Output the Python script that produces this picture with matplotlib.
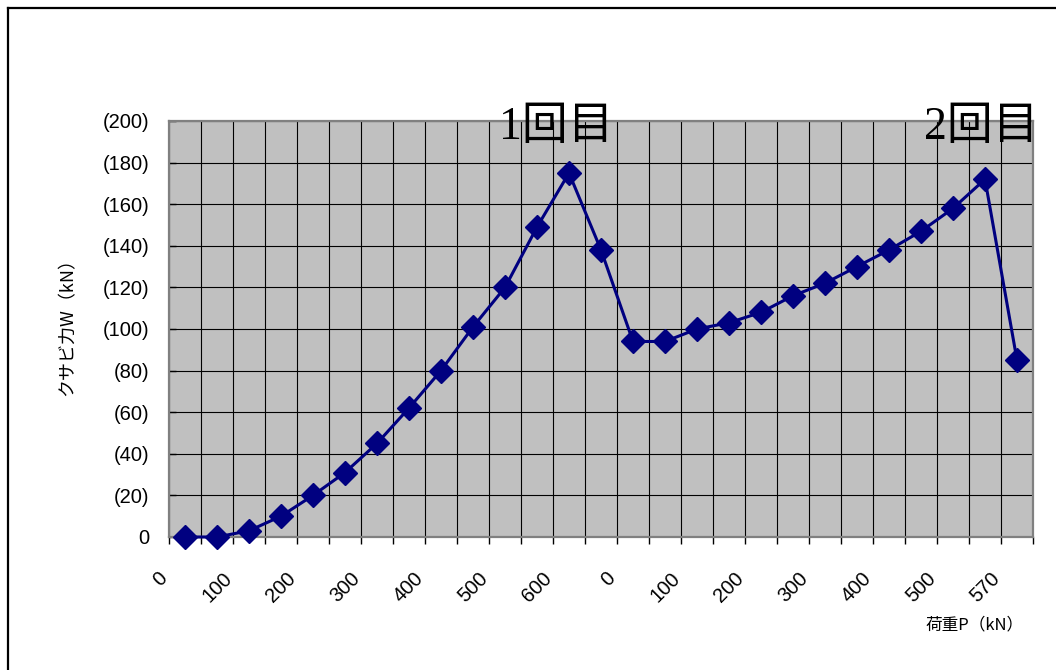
import matplotlib.pyplot as plt
from matplotlib.lines import Line2D
from matplotlib.ticker import FixedLocator, FuncFormatter, NullFormatter
from matplotlib.transforms import ScaledTranslation

plt.rcParams['font.family'] = ['Liberation Sans', 'Noto Sans CJK JP']

# 荷重P (kN)  1回目: 0→650, 2回目: 0→570
load_1 = [0, 50, 100, 150, 200, 250, 300, 350, 400, 450, 500, 550, 600, 650]
load_2 = [0, 50, 100, 150, 200, 250, 300, 350, 400, 450, 500, 550, 570]
loads = load_1 + load_2

# クサビ力W (kN)  圧縮側を負で記録
wedge = [0, 0, -3, -10, -20, -31, -45, -62, -80, -101, -120, -149, -175, -138,
         -94, -94, -100, -103, -108, -116, -122, -130, -138, -147, -158, -172, -85]

W, H = 1056, 670
fig = plt.figure(figsize=(W / 100, H / 100), dpi=100)
fig.patch.set_facecolor('white')

# プロットエリア (ピクセル指定)
left, right, top, bottom = 169, 1033, 121, 537
ax = fig.add_axes([left / W, 1 - bottom / H, (right - left) / W, (bottom - top) / H])
ax.set_facecolor('#C0C0C0')

x = list(range(len(wedge)))
ax.plot(x, wedge, color='#000080', lw=2.2, marker='D', ms=12.5,
        mfc='#000080', mec='#000080', mew=1, clip_on=False, zorder=5)

n = len(loads)
ax.set_xlim(-0.5, n - 0.5)
ax.set_ylim(0, -200)

# 目盛: 区切り線ごと
ax.xaxis.set_major_locator(FixedLocator([i - 0.5 for i in range(n + 1)]))
ax.xaxis.set_major_formatter(NullFormatter())
ax.yaxis.set_major_locator(FixedLocator(list(range(0, -201, -20))))
ax.yaxis.set_major_formatter(FuncFormatter(
    lambda v, p: f'({abs(v):.0f})' if v < 0 else '0'))

ax.tick_params(axis='x', direction='out', length=5, width=1, color='black')
ax.tick_params(axis='y', direction='in', length=5, width=1, color='black',
               pad=14, labelsize=14.5)

# 荷重ラベルは1つおき、斜め45度
lab_tr = ax.get_xaxis_transform() + ScaledTranslation(-0.11, -0.32, fig.dpi_scale_trans)
for i in range(0, n, 2):
    ax.text(i - 0.5, 0, str(loads[i]), transform=lab_tr, rotation=45,
            rotation_mode='anchor', ha='right', va='top', fontsize=14.5)

ax.grid(True, axis='both', color='black', lw=0.8)
ax.set_axisbelow(True)

for s in ax.spines.values():
    s.set_color('#808080')
    s.set_linewidth(1.6)

# 軸ラベル
fig.text(67 / W, 1 - 323 / H, 'クサビ力W（kN）', rotation=90, ha='center',
         va='center', fontsize=13, family=['Noto Sans CJK JP'])
fig.text(1024 / W, 1 - 625 / H, '荷重P（kN）', ha='right', va='center',
         fontsize=12, family=['Noto Sans CJK JP'])

# 載荷回の注記
for label, cx in [('1回目', 556), ('2回目', 981)]:
    fig.text(cx / W, 1 - 128 / H, label, ha='center', va='center', fontsize=33,
             family=['Liberation Serif', 'Noto Sans CJK JP'], zorder=10)

# 外枠 (左・上)
fig.add_artist(Line2D([7.5 / W, 7.5 / W], [0, 1 - 7.5 / H], color='black',
                      lw=1.6, transform=fig.transFigure))
fig.add_artist(Line2D([7.5 / W, 1], [1 - 7.5 / H, 1 - 7.5 / H], color='black',
                      lw=1.6, transform=fig.transFigure))

fig.savefig('out.png', dpi=100)
